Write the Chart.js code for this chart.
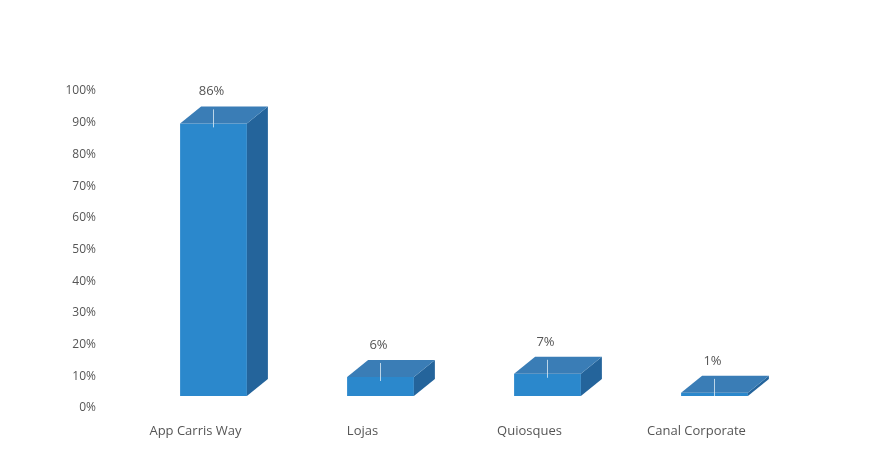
<!DOCTYPE html>
<html>
<head>
<meta charset="utf-8">
<script src="https://cdn.jsdelivr.net/npm/chart.js@4"></script>
<style>
  body { margin: 0; background: #fff; }
  #wrap { width: 882px; height: 455px; }
</style>
</head>
<body>
<div id="wrap"><canvas id="barChart"></canvas></div>
<script>
const categories = ["App Carris Way", "Lojas", "Quiosques", "Canal Corporate"];
const shares = [86, 6, 7, 1];
const yTicks = [0, 10, 20, 30, 40, 50, 60, 70, 80, 90, 100];

const frontColor = "#2b88cc";
const topColor = "#3a7db6";
const sideColor = "#24649b";
const textColor = "#555555";
const depthX = 21;
const depthY = 17;

// fake 3D: side and top faces drawn next to each Chart.js bar
let boxes = {
    id: "boxes",
    afterDatasetsDraw(chart) {
        let ctx = chart.ctx;
        let meta = chart.getDatasetMeta(0);
        ctx.save();
        meta.data.forEach((bar, i) => {
            let half = bar.width / 2;
            let left = bar.x - half;
            let right = bar.x + half;
            let top = bar.y;
            let bottom = bar.base;

            ctx.fillStyle = sideColor;
            ctx.beginPath();
            ctx.moveTo(right, top);
            ctx.lineTo(right + depthX, top - depthY);
            ctx.lineTo(right + depthX, bottom - depthY);
            ctx.lineTo(right, bottom);
            ctx.closePath();
            ctx.fill();

            ctx.fillStyle = topColor;
            ctx.beginPath();
            ctx.moveTo(left, top);
            ctx.lineTo(left + depthX, top - depthY);
            ctx.lineTo(right + depthX, top - depthY);
            ctx.lineTo(right, top);
            ctx.closePath();
            ctx.fill();

            // thin leader line
            ctx.strokeStyle = "rgba(220,235,245,0.8)";
            ctx.lineWidth = 1;
            ctx.beginPath();
            ctx.moveTo(bar.x, top - depthY + 3);
            ctx.lineTo(bar.x, Math.min(top + 4, bottom));
            ctx.stroke();

            ctx.fillStyle = textColor;
            ctx.font = "13px 'Open Sans'";
            ctx.textAlign = "center";
            ctx.textBaseline = "middle";
            ctx.fillText(shares[i] + "%", bar.x - 2, top - 32);
        });
        ctx.restore();
    }
};

new Chart(document.getElementById("barChart").getContext("2d"), {
    type: "bar",
    data: {
        labels: categories,
        datasets: [{
            data: shares,
            backgroundColor: frontColor,
            barPercentage: 0.4,
            categoryPercentage: 1
        }]
    },
    options: {
        responsive: true,
        maintainAspectRatio: false,
        animation: false,
        layout: { padding: { left: 0, right: 84, top: 79, bottom: 0 } },
        plugins: { legend: { display: false }, tooltip: { enabled: false } },
        scales: {
            x: {
                grid: { display: false, drawTicks: false },
                border: { display: false },
                ticks: { color: textColor, font: { family: "Open Sans", size: 13 }, padding: 27, labelOffset: -18 },
                afterFit(scale) { scale.height = 59; }
            },
            y: {
                min: 0,
                max: 100,
                grid: { display: false, drawTicks: false },
                border: { display: false },
                afterBuildTicks(scale) { scale.ticks = yTicks.map(v => ({ value: v })); },
                ticks: {
                    color: textColor,
                    font: { family: "Open Sans", size: 12 },
                    padding: 34,
                    labelOffset: 12,
                    callback: v => v + "%"
                },
                afterFit(scale) { scale.width = 130; }
            }
        }
    },
    plugins: [boxes]
});
</script>
</body>
</html>
